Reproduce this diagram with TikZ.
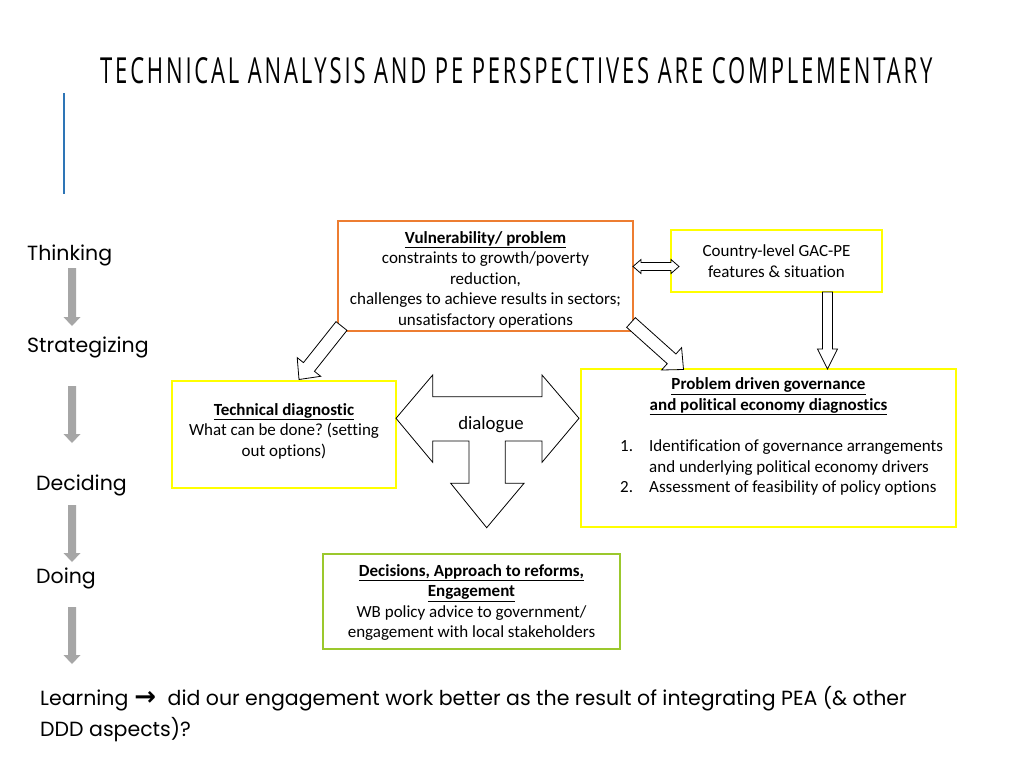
\documentclass[tikz,border=0pt]{standalone}
\usepackage{fontspec}
\setmainfont[Ligatures=NoCommon]{Carlito}
\newfontfamily\gfont{Poppins}
\newfontfamily\tfont[LetterSpace=7,FakeStretch=0.55]{Open Sans}
\newfontfamily\symfont{DejaVu Sans}
\usetikzlibrary{calc}
\frenchspacing
\definecolor{boxorange}{HTML}{ED7D31}
\definecolor{boxyellow}{HTML}{FFFF00}
\definecolor{boxgreen}{RGB}{155,200,45}
\definecolor{accentblue}{HTML}{2E75B6}
\definecolor{stepgray}{HTML}{A6A6A6}
% block arrow: [style]{from}{to}{shaft half width}{head half width}{head length}
\newcommand{\blockarrow}[6][]{%
  \coordinate (ba-h) at ($(#3)!#6!(#2)$);
  \path[#1] ($(#2)!#4!-90:(#3)$) -- ($(ba-h)!#4!90:(#2)$) -- ($(ba-h)!#5!90:(#2)$) -- (#3)
    -- ($(ba-h)!#5!-90:(#2)$) -- ($(ba-h)!#4!-90:(#2)$) -- ($(#2)!#4!90:(#3)$) -- cycle;
}
\begin{document}
\begin{tikzpicture}[x=1pt,y=-1pt,
  box/.style={draw, line width=2.5pt, fill=white, inner sep=0pt},
  boxtext/.style={font=\fontsize{17}{20.5}\selectfont, align=center, inner sep=0pt},
  listtext/.style={font=\fontsize{17}{20.5}\selectfont, anchor=base west, inner sep=0pt},
  steplabel/.style={font=\gfont\fontsize{20.5}{24}\selectfont, anchor=base west, inner sep=0pt},
  grayarrow/.style={fill=stepgray},
  whitearrow/.style={draw=black, fill=white, line width=0.8pt, line join=miter}]
\useasboundingbox (0,0) rectangle (1024,768);
\fill[white] (0,0) rectangle (1024,768);

% title and accent line
\node[anchor=south west, inner sep=0pt] (title) at (100,84)
  {\resizebox{832pt}{26pt}{\tfont TECHNICAL ANALYSIS AND PE PERSPECTIVES ARE COMPLEMENTARY}};
\draw[accentblue, line width=2.5pt] (64,93) -- (64,194);

% left process labels
\node[steplabel] (think) at (27,260) {Thinking};
\node[steplabel] (strat) at (27,352) {Strategizing};
\node[steplabel] (decide) at (36,490) {Deciding};
\node[steplabel] (doing) at (36,583) {Doing};

\coordinate (g1a) at (72,268); \coordinate (g1b) at (72,326);
\coordinate (g2a) at (72,386); \coordinate (g2b) at (72,443);
\coordinate (g3a) at (72,505); \coordinate (g3b) at (72,562);
\coordinate (g4a) at (72,607); \coordinate (g4b) at (72,664);
\blockarrow[grayarrow]{g1a}{g1b}{4pt}{8.5pt}{9pt}
\blockarrow[grayarrow]{g2a}{g2b}{4pt}{8.5pt}{9pt}
\blockarrow[grayarrow]{g3a}{g3b}{4pt}{8.5pt}{9pt}
\blockarrow[grayarrow]{g4a}{g4b}{4pt}{8.5pt}{9pt}

% boxes
\node[box, draw=boxorange, minimum width=295pt, minimum height=110pt] (vuln) at (485.5,276) {};
\node[boxtext] (vulntxt) at (485.5,279.5) {\underline{\textbf{Vulnerability/ problem}}\\constraints to growth/poverty\\reduction,\\challenges to achieve results in sectors;\\unsatisfactory operations};

\node[box, draw=boxyellow, minimum width=211pt, minimum height=62pt] (gac) at (776.5,261) {};
\node[boxtext] (gactxt) at (776.5,261) {Country-level GAC-PE\\features \& situation};

\node[box, draw=boxyellow, minimum width=224pt, minimum height=107pt] (tech) at (284,434.5) {};
\node[boxtext] (techtxt) at (284,431) {\underline{\textbf{Technical diagnostic}}\\What can be done? (setting\\out options)};

\node[box, draw=boxyellow, minimum width=375pt, minimum height=158pt] (pea) at (768.5,448) {};
\node[boxtext] (peahead) at (768.5,396.5) {\underline{\textbf{Problem driven governance}}\\\underline{\textbf{and political economy diagnostics}}};
\node[listtext] (n1) at (620,451) {1.};
\node[listtext] (l1) at (649,451) {Identification of governance arrangements};
\node[listtext] (l2) at (649,472) {and underlying political economy drivers};
\node[listtext] (n2) at (620,492) {2.};
\node[listtext] (l3) at (649,492) {Assessment of feasibility of policy options};

\node[box, draw=boxgreen, minimum width=297pt, minimum height=95pt] (dec) at (471.5,601.5) {};
\node[boxtext] (dectxt) at (471.5,602.5) {\underline{\textbf{Decisions, Approach to reforms,}}\\\underline{\textbf{Engagement}}\\WB policy advice to government/\\engagement with local stakeholders};

% block arrows between boxes
\coordinate (la) at (341.5,326); \coordinate (lb) at (299,379.5);
\blockarrow[whitearrow]{la}{lb}{7pt}{15pt}{16pt}
\coordinate (ra) at (631,322.5); \coordinate (rb) at (683.5,369.5);
\blockarrow[whitearrow]{ra}{rb}{6.5pt}{15pt}{16pt}
\coordinate (da) at (827.5,292); \coordinate (db) at (827.5,369);
\blockarrow[whitearrow]{da}{db}{5pt}{10pt}{20pt}

\coordinate (dl) at (633,266.5); \coordinate (dr) at (679,266.5);
\draw[whitearrow] (dl) -- ($(dl)+(8,-7)$) -- ($(dl)+(8,-4)$) -- ($(dr)+(-8,-4)$) -- ($(dr)+(-8,-7)$)
  -- (dr) -- ($(dr)+(-8,7)$) -- ($(dr)+(-8,4)$) -- ($(dl)+(8,4)$) -- ($(dl)+(8,7)$) -- cycle;

% dialogue three-way arrow
\draw[whitearrow] (396,418.3) -- (432.7,375) -- (432.7,396.7) -- (542,396.7) -- (542,375)
  -- (579,418.3) -- (542,462.3) -- (542,441) -- (505.3,441) -- (505.3,483.3) -- (524,483.3)
  -- (486.7,527.7) -- (450.7,483.3) -- (469,483.3) -- (469,441) -- (432.7,441) -- (432.7,462.3) -- cycle;
\node[font=\fontsize{18.8}{22}\selectfont, inner sep=0pt] (dia) at (491,425) {dialogue};

% learning line
\node[steplabel] (learn1) at (40,705) {Learning\hspace{6pt}{\symfont\bfseries\fontsize{26}{28}\selectfont →}\hspace{6pt} did our engagement work better as the result of integrating PEA (\& other};
\node[steplabel] (learn2) at (40,736) {DDD aspects)?};
\end{tikzpicture}
\end{document}
